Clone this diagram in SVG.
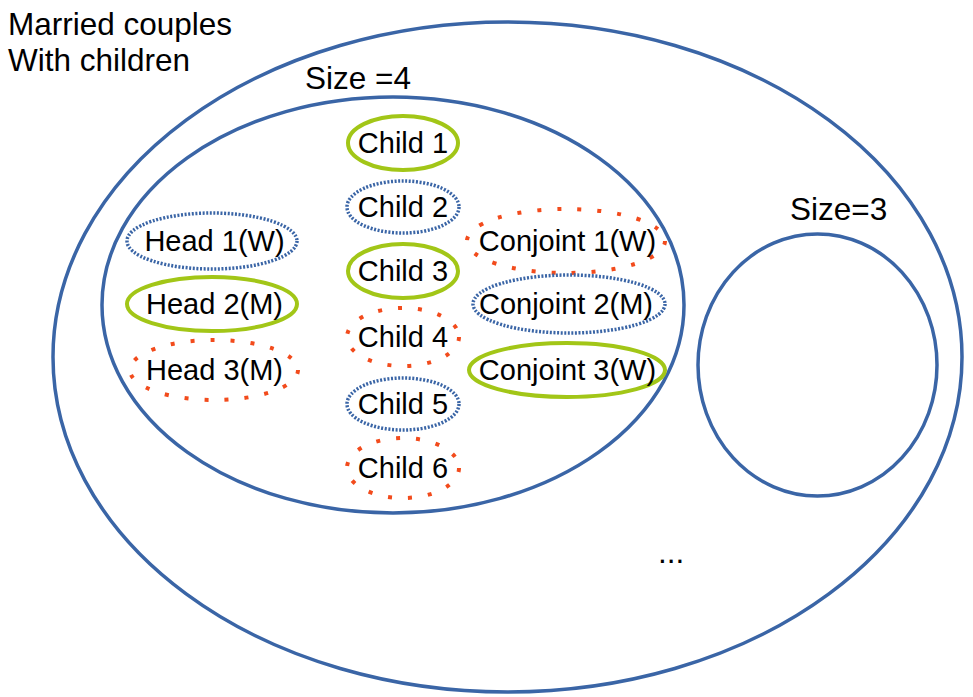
<svg xmlns="http://www.w3.org/2000/svg" width="973" height="697" viewBox="0 0 973 697">
<style>
text{font-family:"Liberation Sans",Arial,sans-serif;font-size:29px;fill:#000}
.t{font-size:31.5px}
.c{text-anchor:middle}
.big{fill:none;stroke:#3a65a6;stroke-width:3.5}
.g{fill:none;stroke:#a2c617;stroke-width:4}
.b{fill:none;stroke:#3a65a6;stroke-width:3.5;stroke-dasharray:2 1.6}
.r{fill:none;stroke:#f24b1c;stroke-width:4;stroke-dasharray:4 16}
</style>
<rect width="973" height="697" fill="#fff"/>
<g id="outer"><ellipse class="big" cx="507.5" cy="357" rx="454.5" ry="335"/>
<text class="t" x="8" y="35">Married couples</text><text class="t" x="8" y="71">With children</text></g>
<g id="size4"><ellipse class="big" cx="393" cy="305" rx="291" ry="208"/><text class="t" x="305" y="89">Size =4</text></g>
<g id="size3"><ellipse class="big" cx="817.5" cy="365" rx="119.5" ry="131"/><text class="t" x="790" y="220">Size=3</text></g>
<g id="child1"><ellipse class="g" cx="403" cy="143" rx="55" ry="27"/><text class="c" x="403" y="153">Child 1</text></g>
<g id="child2"><ellipse class="b" cx="403" cy="207" rx="56" ry="26"/><text class="c" x="403" y="217">Child 2</text></g>
<g id="child3"><ellipse class="g" cx="403" cy="271" rx="55" ry="27"/><text class="c" x="403" y="281">Child 3</text></g>
<g id="child4"><ellipse class="r" cx="403" cy="337" rx="56" ry="29"/><text class="c" x="403" y="347">Child 4</text></g>
<g id="child5"><ellipse class="b" cx="403" cy="404" rx="56" ry="26"/><text class="c" x="403" y="414">Child 5</text></g>
<g id="child6"><ellipse class="r" cx="403" cy="468" rx="56" ry="30"/><text class="c" x="403" y="478">Child 6</text></g>
<g id="head1"><ellipse class="b" cx="212" cy="241" rx="85" ry="28"/><text class="c" x="214.5" y="251">Head 1(W)</text></g>
<g id="head2"><ellipse class="g" cx="212" cy="304" rx="85" ry="27"/><text class="c" x="214.5" y="314">Head 2(M)</text></g>
<g id="head3"><ellipse class="r" cx="214" cy="370" rx="84" ry="30"/><text class="c" x="214.5" y="380">Head 3(M)</text></g>
<g id="conj1"><ellipse class="r" cx="566" cy="241" rx="99" ry="32"/><text class="c" x="567.5" y="251">Conjoint 1(W)</text></g>
<g id="conj2"><ellipse class="b" cx="569" cy="304" rx="96" ry="29"/><text class="c" x="566" y="314">Conjoint 2(M)</text></g>
<g id="conj3"><ellipse class="g" cx="567" cy="370" rx="98" ry="27"/><text class="c" x="567.5" y="380">Conjoint 3(W)</text></g>
<g id="connectors"/>
<text class="t" x="658" y="563">...</text>
</svg>
